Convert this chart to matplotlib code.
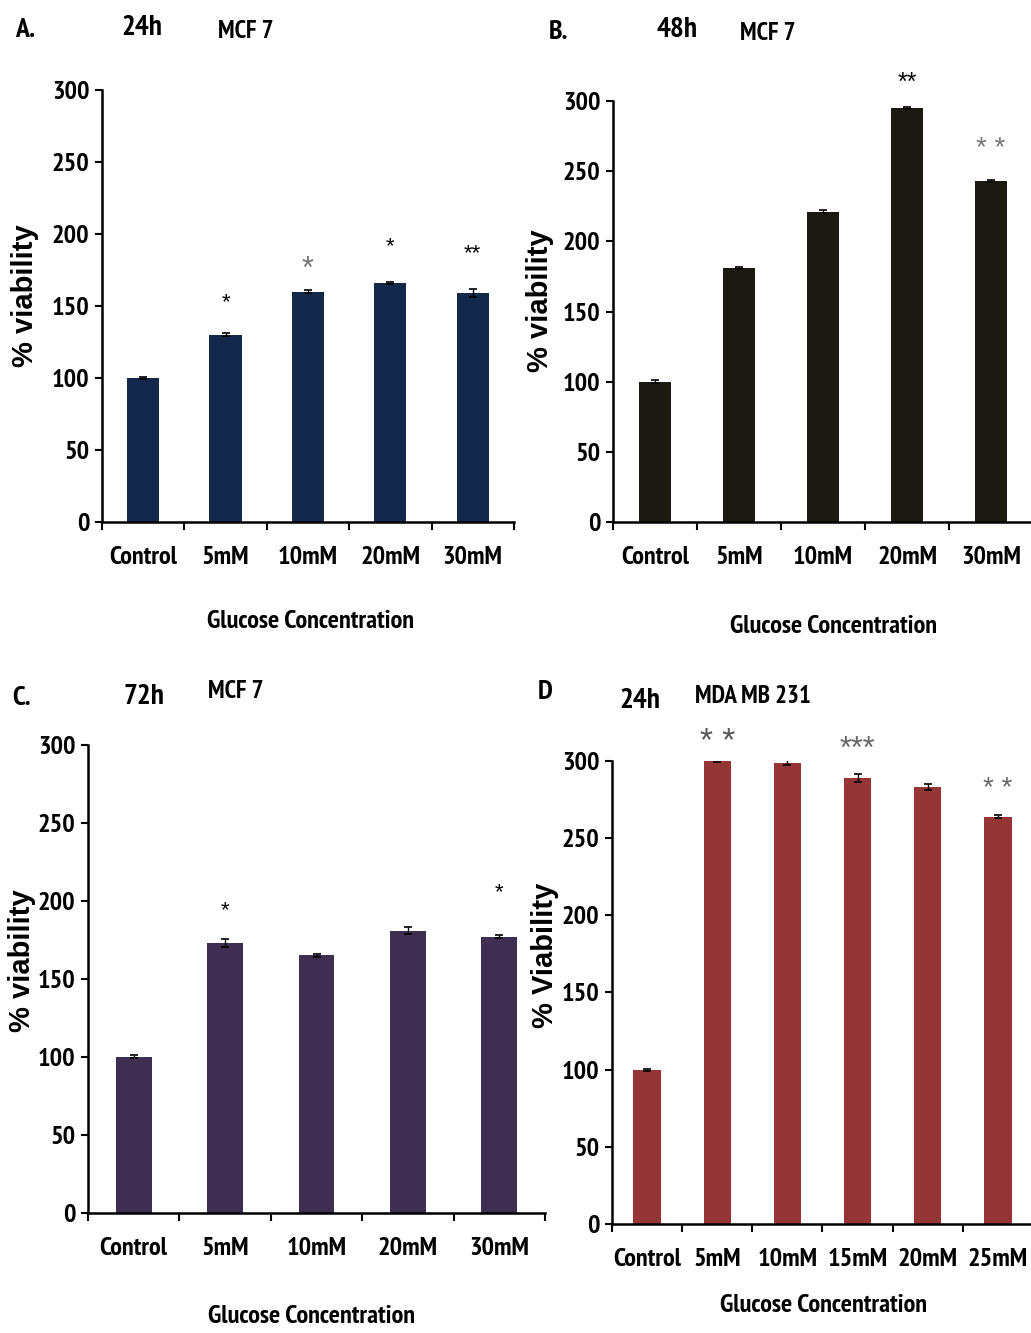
import matplotlib
matplotlib.use("Agg")
import matplotlib.pyplot as plt
import numpy as np

NARROW = ["PT Sans Narrow", "Liberation Sans", "DejaVu Sans"]
ARIAL = ["Liberation Sans", "DejaVu Sans"]

# data
mcf_labels = ["Control", "5mM", "10mM", "20mM", "30mM"]
mda_labels = ["Control", "5mM", "10mM", "15mM", "20mM", "25mM"]

a_vals = [100, 130, 160, 166, 159]
a_err = [1, 1, 1, 1, 2.5]
b_vals = [100, 181, 221, 295, 243]
b_err = [1, 1, 1, 1, 1]
c_vals = [100, 173, 165, 181, 177]
c_err = [1, 2.5, 1, 2, 1]
d_vals = [100, 300, 299, 289, 283, 264]
d_err = [0.7, 0.7, 1.5, 2.5, 2, 1]

# significance marks: (index, text, y, colour, size)
a_stars = [(1, "*", 152, "black", 16), (2, "*", 175, "#777777", 22),
           (3, "*", 191, "black", 16), (4, "**", 186, "black", 16)]
b_stars = [(3, "**", 313, "black", 18), (4, "* *", 266, "#777777", 20)]
c_stars = [(1, "*", 194, "black", 16), (4, "*", 205, "black", 16)]
d_stars = [(1, "* *", 312, "#555555", 24), (3, "***", 307, "#666666", 22),
           (5, "* *", 282, "#666666", 20)]

fig = plt.figure(figsize=(10.31, 13.33), dpi=100)


def panel(rect, labels, vals, err, color, ylabel, stars, ylab_xy, xlab_xy):
    ax = fig.add_axes(rect)
    x = np.arange(len(labels))
    ax.bar(x, vals, width=0.39, color=color, zorder=2)
    ax.errorbar(x, vals, yerr=err, fmt="none", ecolor="black",
                elinewidth=1, capsize=3, capthick=1.2, zorder=3)
    ax.set_xlim(-0.5, len(labels) - 0.5)
    ax.set_ylim(0, 300)
    ax.set_yticks(range(0, 301, 50))
    ax.set_xticks(x)
    ax.set_xticklabels(labels)
    ax.set_xticks(np.arange(len(labels) + 1) - 0.5, minor=True)
    ax.tick_params(axis="x", which="major", length=0, pad=17)
    ax.tick_params(axis="x", which="minor", length=6, width=1.5, direction="out")
    ax.tick_params(axis="y", length=5, width=1.5, direction="out", pad=4)
    for s in ["top", "right"]:
        ax.spines[s].set_visible(False)
    for s in ["left", "bottom"]:
        ax.spines[s].set_linewidth(1.8)
    for t in ax.get_xticklabels() + ax.get_yticklabels():
        t.set_family(NARROW)
        t.set_fontweight("bold")
        t.set_fontsize(19)
    ax.set_ylabel(ylabel, family=ARIAL, fontweight="bold", fontsize=21)
    ax.yaxis.set_label_coords(*ylab_xy)
    ax.yaxis.label.set_va("center")
    ax.set_xlabel("Glucose Concentration", family=NARROW, fontweight="bold",
                  fontsize=19)
    ax.xaxis.set_label_coords(*xlab_xy)
    ax.xaxis.label.set_va("center")
    for i, txt, y, col, sz in stars:
        ax.text(i, y, txt, ha="center", va="center", color=col, fontsize=sz,
                family=ARIAL, clip_on=False)
    return ax


axA = panel([0.0989, 0.6084, 0.3996, 0.3241], mcf_labels, a_vals, a_err,
            "#13284a", "% viability", a_stars, (-0.187, 0.525), (0.507, -0.231))
axB = panel([0.5946, 0.6084, 0.4074, 0.3158], mcf_labels, b_vals, b_err,
            "#1c1a10", "% viability", b_stars, (-0.174, 0.527), (0.524, -0.249))
axC = panel([0.0854, 0.0901, 0.4432, 0.3511], mcf_labels, c_vals, c_err,
            "#3e2f52", "% viability", c_stars, (-0.144, 0.54), (0.49, -0.222))
axD = panel([0.5936, 0.0818, 0.4083, 0.3473], mda_labels, d_vals, d_err,
            "#953535", "% Viability", d_stars, (-0.158, 0.58), (0.502, -0.177))

# panel headers
hdr = dict(family=NARROW, fontweight="bold", va="center")
fig.text(0.015, 1 - 30 / 1333, "A.", fontsize=20, **hdr)
fig.text(0.118, 1 - 28 / 1333, "24h", fontsize=21, **hdr)
fig.text(0.211, 1 - 32 / 1333, "MCF 7", fontsize=18, **hdr)

fig.text(0.532, 1 - 32 / 1333, "B.", fontsize=20, **hdr)
fig.text(0.637, 1 - 30 / 1333, "48h", fontsize=21, **hdr)
fig.text(0.718, 1 - 33 / 1333, "MCF 7", fontsize=18, **hdr)

fig.text(0.012, 1 - 698 / 1333, "C.", fontsize=20, **hdr)
fig.text(0.120, 1 - 697 / 1333, "72h", fontsize=21, **hdr)
fig.text(0.202, 1 - 692 / 1333, "MCF 7", fontsize=18, **hdr)

fig.text(0.522, 1 - 692 / 1333, "D", fontsize=20, **hdr)
fig.text(0.601, 1 - 701 / 1333, "24h", fontsize=21, **hdr)
fig.text(0.674, 1 - 696 / 1333, "MDA MB 231", fontsize=18, **hdr)

fig.savefig("out.png", dpi=100)
